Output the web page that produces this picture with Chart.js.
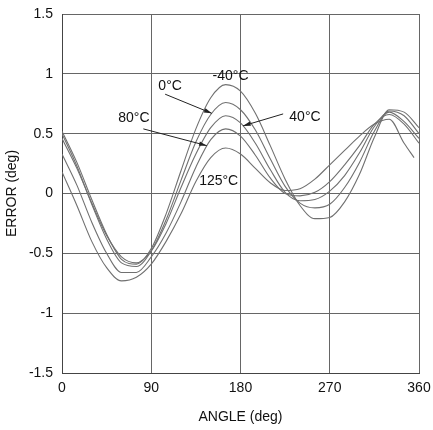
<!DOCTYPE html>
<html>
<head>
<meta charset="utf-8">
<script src="https://cdn.jsdelivr.net/npm/chart.js@4.4.0/dist/chart.umd.min.js"></script>
<style>
  html,body{margin:0;padding:0;background:#fff;}
  #wrap{width:433px;height:430px;}
</style>
</head>
<body>
<div id="wrap"><canvas id="errChart"></canvas></div>
<script>
/* DATA */
const angles=[0,15,30,45,60,75,90,105,120,135,150,165,180,195,210,225,240,255,270,285,300,315,330,345,360];
const anglesHot=[0,15,30,45,60,75,90,105,120,135,150,165,180,195,210,225,240,255,270,285,300,315,330,345,355];
const errM40=[0.52,0.26,-0.05,-0.34,-0.55,-0.59,-0.46,-0.17,0.19,0.54,0.80,0.91,0.855,0.67,0.40,0.12,-0.10,-0.21,-0.20,-0.07,0.16,0.47,0.70,0.68,0.55];
const err0=[0.50,0.23,-0.09,-0.38,-0.58,-0.61,-0.48,-0.22,0.11,0.43,0.66,0.76,0.70,0.53,0.29,0.06,-0.08,-0.12,-0.09,0.05,0.26,0.52,0.69,0.65,0.50];
const err40=[0.46,0.21,-0.08,-0.35,-0.53,-0.58,-0.48,-0.25,0.05,0.33,0.55,0.65,0.59,0.42,0.20,0.01,-0.06,-0.05,0.02,0.15,0.34,0.56,0.68,0.60,0.46];
const err80=[0.33,0.07,-0.24,-0.50,-0.66,-0.66,-0.53,-0.33,-0.07,0.22,0.45,0.54,0.48,0.32,0.13,0.0,-0.02,0.01,0.10,0.24,0.40,0.58,0.66,0.58,0.42];
const err125=[0.18,-0.10,-0.40,-0.62,-0.73,-0.70,-0.59,-0.40,-0.17,0.10,0.30,0.38,0.33,0.21,0.09,0.025,0.04,0.12,0.24,0.36,0.48,0.58,0.62,0.42,0.30];
const xTicks=[0,90,180,270,360];
const yTicks=[-1.5,-1,-0.5,0,0.5,1,1.5];

const FONT="'Liberation Sans', Arial, sans-serif";
const lineColor="#707070";

function series(xs,ys){
  return xs.map((x,i)=>({x:x,y:ys[i]}));
}
function ds(xs,ys){
  return {
    data:series(xs,ys),
    borderColor:lineColor,
    borderWidth:1.1,
    pointRadius:0,
    fill:false,
    cubicInterpolationMode:"monotone"
  };
}

/* LABELS + ARROWS (placed in data units) */
const notes=[
  {text:"-40°C",x:170,y:0.98},
  {text:"0°C",x:109,y:0.90,from:[104,0.83],to:[151,0.67]},
  {text:"80°C",x:72.5,y:0.63,from:[82,0.54],to:[146,0.40]},
  {text:"40°C",x:245,y:0.64,from:[223,0.665],to:[182.5,0.565]},
  {text:"125°C",x:158,y:0.10}
];

const notePlugin={
  id:"notes",
  afterDatasetsDraw(chart){
    const c=chart.ctx, sx=chart.scales.x, sy=chart.scales.y;
    c.save();
    c.font="14px "+FONT;
    c.fillStyle="#111";
    c.textAlign="center";
    c.textBaseline="middle";
    notes.forEach(n=>{
      c.fillText(n.text,sx.getPixelForValue(n.x),sy.getPixelForValue(n.y));
      if(n.from){
        const x1=sx.getPixelForValue(n.from[0]), y1=sy.getPixelForValue(n.from[1]);
        const x2=sx.getPixelForValue(n.to[0]), y2=sy.getPixelForValue(n.to[1]);
        c.strokeStyle="#222";
        c.lineWidth=1;
        c.beginPath();c.moveTo(x1,y1);c.lineTo(x2,y2);c.stroke();
        const a=Math.atan2(y2-y1,x2-x1), L=8, w=0.28;
        c.beginPath();
        c.moveTo(x2,y2);
        c.lineTo(x2-L*Math.cos(a-w),y2-L*Math.sin(a-w));
        c.lineTo(x2-L*Math.cos(a+w),y2-L*Math.sin(a+w));
        c.closePath();
        c.fillStyle="#222";
        c.fill();
        c.fillStyle="#111";
      }
    });
    c.restore();
  }
};

new Chart(document.getElementById("errChart"),{
  type:"line",
  data:{
    datasets:[
      ds(angles,errM40),
      ds(angles,err0),
      ds(angles,err40),
      ds(angles,err80),
      ds(anglesHot,err125)
    ]
  },
  options:{
    responsive:true,
    maintainAspectRatio:false,
    animation:false,
    layout:{padding:{top:14,right:14,left:0,bottom:0}},
    plugins:{legend:{display:false},tooltip:{enabled:false}},
    scales:{
      x:{
        type:"linear",
        min:0,max:360,
        afterBuildTicks(s){s.ticks=xTicks.map(v=>({value:v}));},
        afterFit(s){s.height=57;s.paddingRight=0;s.paddingLeft=0;},
        grid:{color:"#666",lineWidth:1,drawTicks:false},
        border:{color:"#444",width:1},
        ticks:{color:"#111",font:{family:FONT,size:14},padding:7,maxRotation:0},
        title:{display:true,text:"ANGLE (deg)",color:"#111",font:{family:FONT,size:14},padding:{top:4}}
      },
      y:{
        min:-1.5,max:1.5,
        afterBuildTicks(s){s.ticks=yTicks.map(v=>({value:v}));},
        afterFit(s){s.width=62;s.paddingTop=0;s.paddingBottom=0;},
        grid:{color:"#666",lineWidth:1,drawTicks:false},
        border:{color:"#444",width:1},
        ticks:{color:"#111",font:{family:FONT,size:14},padding:9,callback:v=>String(v)},
        title:{display:true,text:"ERROR (deg)",color:"#111",font:{family:FONT,size:14},padding:{bottom:2}}
      }
    }
  },
  plugins:[notePlugin]
});
</script>
</body>
</html>
